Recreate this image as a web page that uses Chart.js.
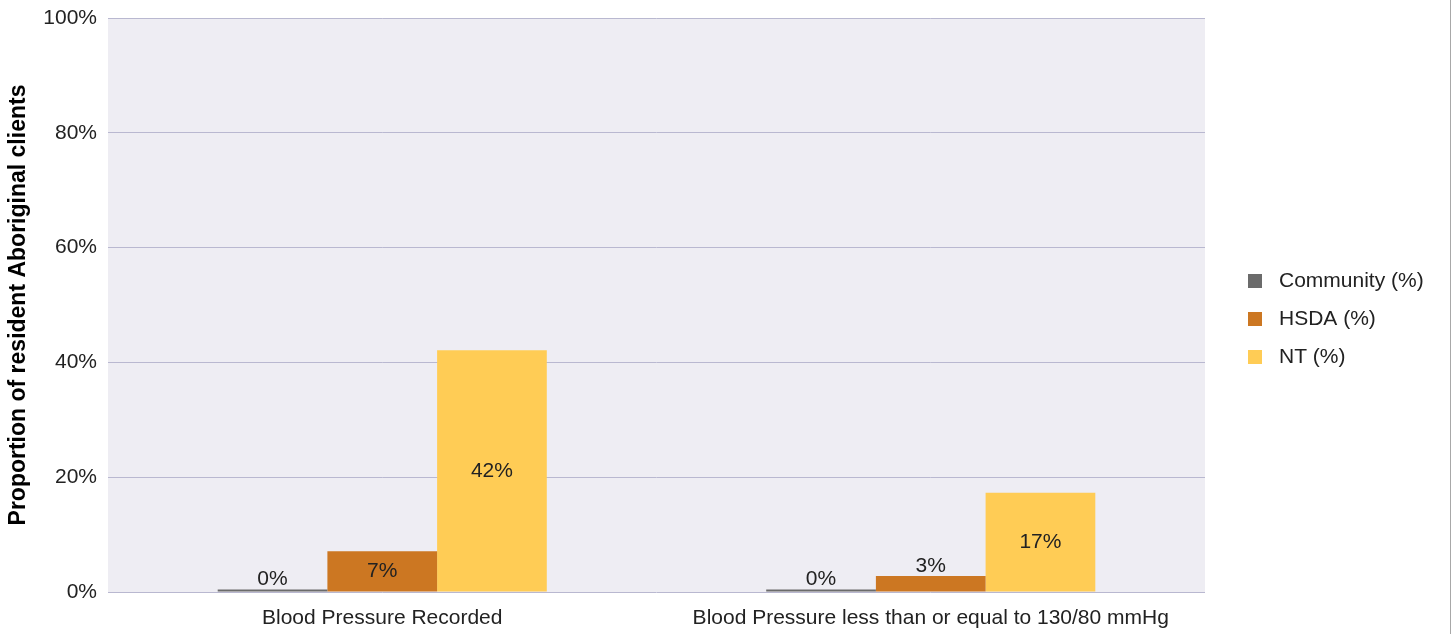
<!DOCTYPE html>
<html>
<head>
<meta charset="utf-8">
<title>Blood pressure</title>
<script src="https://cdn.jsdelivr.net/npm/chart.js@4/dist/chart.umd.min.js"></script>
<style>
    html, body { margin: 0; padding: 0; background: #fff; }
    #wrap { position: relative; width: 1452px; height: 634px; }
    #edge { position: absolute; left: 1450px; top: 0; width: 1px; height: 634px; background: #a8a8a8; }
</style>
</head>
<body>
<div id="wrap">
    <canvas id="bpChart" width="1452" height="634"></canvas>
    <div id="edge"></div>
</div>
<script>
// Dữ liệu biểu đồ
const categories = ['Blood Pressure Recorded', 'Blood Pressure less than or equal to 130/80 mmHg'];
const communityValues = [0.45, 0.45];
const hsdaValues = [7.1, 2.8];
const ntValues = [42.1, 17.3];
const yTicks = [0, 20, 40, 60, 80, 100];

const FONT = '"Liberation Sans", Arial, sans-serif';

// Nền vùng vẽ
const plotBackground = {
    id: 'plotBackground',
    beforeDraw(chart) {
        const { ctx, chartArea } = chart;
        ctx.save();
        ctx.fillStyle = '#eeedf3';
        ctx.fillRect(chartArea.left, chartArea.top, chartArea.right - chartArea.left, chartArea.bottom - chartArea.top);
        ctx.restore();
    }
};

// Nhãn giá trị trên cột
const valueLabels = {
    id: 'valueLabels',
    afterDatasetsDraw(chart) {
        const { ctx } = chart;
        ctx.save();
        ctx.font = '21px ' + FONT;
        ctx.fillStyle = '#222';
        ctx.textAlign = 'center';
        chart.data.datasets.forEach((ds, i) => {
            chart.getDatasetMeta(i).data.forEach((bar, j) => {
                const text = Math.round(ds.data[j]) + '%';
                const h = bar.base - bar.y;
                if (h > 25) {
                    ctx.textBaseline = 'middle';
                    ctx.fillText(text, bar.x, (bar.y + bar.base) / 2);
                } else {
                    ctx.textBaseline = 'alphabetic';
                    ctx.fillText(text, bar.x, bar.y - 4);
                }
            });
        });
        ctx.restore();
    }
};

// Chú thích bên phải
const sideLegend = {
    id: 'sideLegend',
    afterDraw(chart) {
        const { ctx, chartArea } = chart;
        const x = chartArea.right + 43;
        const y0 = 281;
        ctx.save();
        ctx.font = '21px ' + FONT;
        ctx.textBaseline = 'middle';
        ctx.textAlign = 'left';
        chart.data.datasets.forEach((ds, i) => {
            const y = y0 + i * 38;
            ctx.fillStyle = ds.backgroundColor;
            ctx.fillRect(x, y - 7, 14, 14);
            ctx.fillStyle = '#222';
            ctx.fillText(ds.label, x + 31, y);
        });
        ctx.restore();
    }
};

const ctx = document.getElementById('bpChart').getContext('2d');
const bpChart = new Chart(ctx, {
    type: 'bar',
    data: {
        labels: categories,
        datasets: [
            { label: 'Community (%)', data: communityValues, backgroundColor: '#6b6b6b' },
            { label: 'HSDA (%)', data: hsdaValues, backgroundColor: '#cc7722' },
            { label: 'NT (%)', data: ntValues, backgroundColor: '#ffcc55' }
        ]
    },
    options: {
        responsive: false,
        animation: false,
        layout: { padding: { top: 18, right: 247, left: 0, bottom: 0 } },
        datasets: {
            bar: { categoryPercentage: 0.6, barPercentage: 1.0, borderWidth: 0 }
        },
        plugins: {
            legend: { display: false },
            tooltip: { enabled: false }
        },
        scales: {
            x: {
                grid: { display: false, drawTicks: false },
                border: { display: false },
                ticks: { font: { family: FONT, size: 21 }, color: '#222', padding: 14 },
                afterFit(scale) { scale.height = 42; }
            },
            y: {
                min: 0,
                max: 100,
                afterBuildTicks(scale) { scale.ticks = yTicks.map(v => ({ value: v })); },
                grid: { color: '#b9b8d0', lineWidth: 1, drawTicks: false },
                border: { display: false },
                ticks: {
                    font: { family: FONT, size: 21 },
                    color: '#222',
                    padding: 11,
                    callback: v => v + '%'
                },
                title: {
                    display: true,
                    text: 'Proportion of resident Aboriginal clients',
                    font: { family: FONT, size: 23, weight: 'bold' },
                    color: '#000',
                    padding: { top: 5, bottom: 0 }
                },
                afterFit(scale) {
                    scale.width = 108;
                    scale.paddingTop = 0;
                    scale.paddingBottom = 0;
                }
            }
        }
    },
    plugins: [plotBackground, valueLabels, sideLegend]
});
</script>
</body>
</html>
